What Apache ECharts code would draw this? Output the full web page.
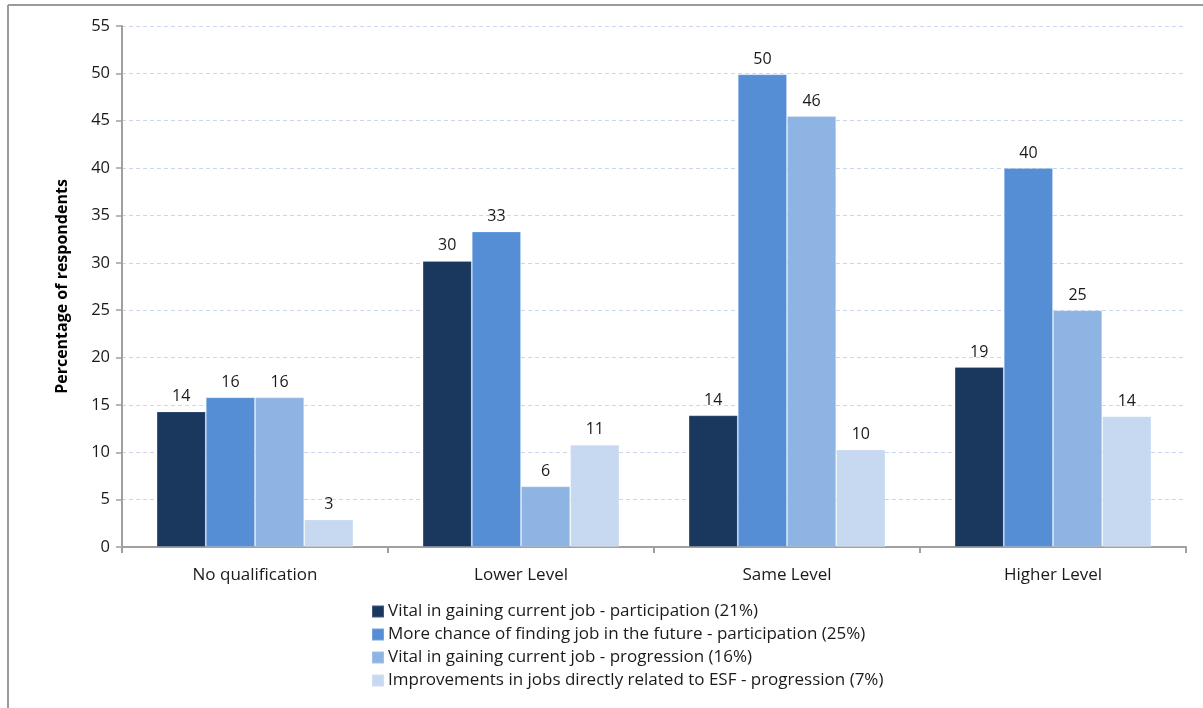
<!DOCTYPE html>
<html>
<head>
<meta charset="utf-8">
<script src="https://cdn.jsdelivr.net/npm/echarts@6/dist/echarts.min.js"></script>
<style>html,body{margin:0;padding:0;background:#fff;}#c{width:1203px;height:708px;}</style>
</head>
<body>
<div id="c"></div>
<script>
var categories = ['No qualification', 'Lower Level', 'Same Level', 'Higher Level'];
var seriesNames = [
  'Vital in gaining current job - participation (21%)',
  'More chance of finding job in the future - participation (25%)',
  'Vital in gaining current job - progression (16%)',
  'Improvements in jobs directly related to ESF - progression (7%)'
];
var vitalParticipation = [14.3, 30.2, 13.9, 19.0];
var moreChanceParticipation = [15.8, 33.3, 49.9, 40.0];
var vitalProgression = [15.8, 6.4, 45.5, 25.0];
var improvementsProgression = [2.9, 10.8, 10.3, 13.8];
var yTicks = [0, 5, 10, 15, 20, 25, 30, 35, 40, 45, 50, 55];
var titleText = 'Figure 4.6: Usefulness of ESF support by destination qualification gained';

var colors = ['#1a375e', '#558ed5', '#8eb4e3', '#c6d9f1'];
var FONT = 'Open Sans';
var allData = [vitalParticipation, moreChanceParticipation, vitalProgression, improvementsProgression];

var series = allData.map(function (d, i) {
  return {
    name: seriesNames[i],
    type: 'bar',
    data: d,
    barGap: '0%',
    barCategoryGap: '26%',
    itemStyle: { color: colors[i], borderColor: 'rgba(255,255,255,0.18)', borderWidth: 1 },
    label: {
      show: true,
      position: 'top',
      distance: 7,
      color: '#1a1a1a',
      fontFamily: FONT,
      fontSize: 16,
      formatter: function (p) { return Math.round(p.value); }
    }
  };
});

var chart = echarts.init(document.getElementById('c'), null, { renderer: 'canvas' });
chart.setOption({
  animation: false,
  backgroundColor: '#fff',
  color: colors,
  graphic: [
    { type: 'text', left: 8, top: -26, z: 0, style: { text: titleText, font: 'bold 26px "Open Sans"', fill: '#000' } },
    { type: 'rect', shape: { x: 0, y: 5, width: 1203, height: 12 }, z: 1, style: { fill: '#fff' } },
    { type: 'line', shape: { x1: 8, y1: 5, x2: 1203, y2: 5 }, z: 2, style: { stroke: '#9a9a9a', lineWidth: 2 } },
    { type: 'line', shape: { x1: 8, y1: 5, x2: 8, y2: 708 }, z: 2, style: { stroke: '#9a9a9a', lineWidth: 2 } }
  ],
  grid: { left: 122, right: 17, top: 26, bottom: 161, containLabel: false },
  legend: {
    orient: 'vertical',
    left: 366,
    top: 598,
    itemWidth: 12,
    itemHeight: 12,
    itemGap: 6,
    icon: 'rect',
    textStyle: { fontFamily: FONT, fontSize: 17, lineHeight: 14, color: '#1a1a1a', padding: [0, 0, 0, -1] },
    data: seriesNames
  },
  xAxis: {
    type: 'category',
    data: categories,
    axisLine: { lineStyle: { color: '#a0a0a0', width: 2 } },
    axisTick: { show: true, length: 6, alignWithLabel: false, lineStyle: { color: '#a0a0a0', width: 2 } },
    axisLabel: { fontFamily: FONT, fontSize: 17, color: '#1a1a1a', margin: 20 }
  },
  yAxis: {
    type: 'value',
    min: 0,
    max: 55,
    interval: 5,
    name: 'Percentage of respondents',
    nameLocation: 'middle',
    nameGap: 52,
    nameTextStyle: { fontFamily: FONT, fontSize: 16, fontWeight: 'bold', color: '#000' },
    axisLine: { show: true, lineStyle: { color: '#a0a0a0', width: 2 } },
    axisTick: { show: true, length: 6, inside: false, lineStyle: { color: '#a0a0a0', width: 1.5 } },
    axisLabel: {
      fontFamily: FONT, fontSize: 16.5, color: '#1a1a1a', margin: 12,
      formatter: function (v) { return yTicks.indexOf(v) >= 0 ? String(v) : ''; }
    },
    splitLine: { show: true, lineStyle: { color: '#c9d6ee', type: [4, 3], width: 1 } }
  },
  series: series
});
</script>
</body>
</html>
